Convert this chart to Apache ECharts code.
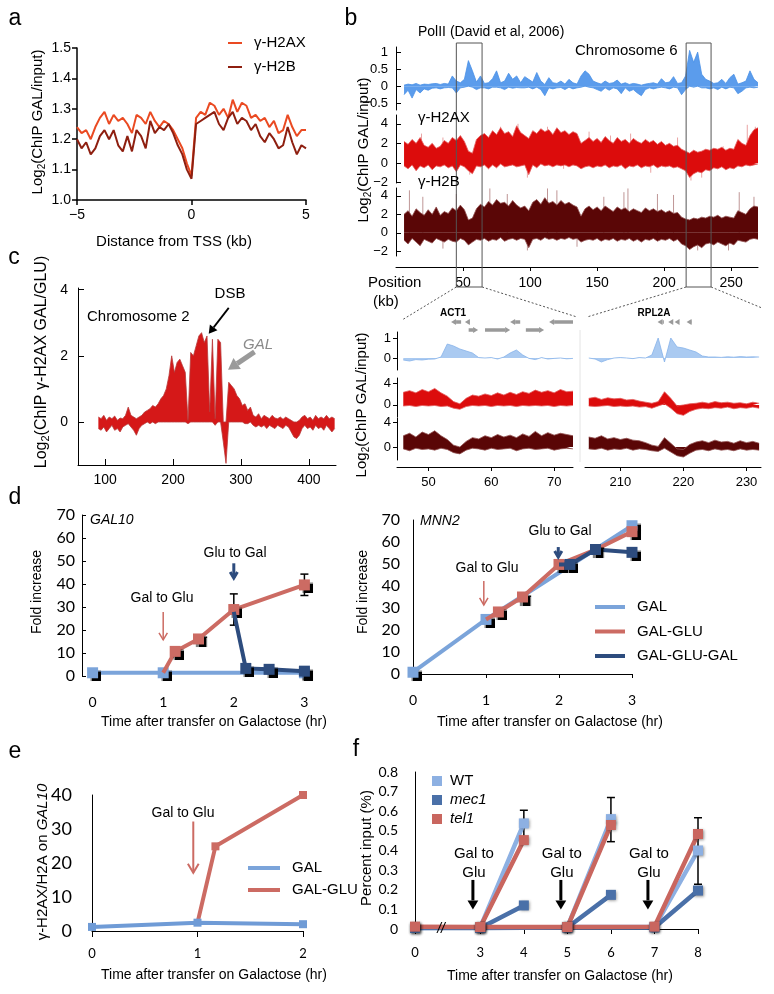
<!DOCTYPE html>
<html>
<head>
<meta charset="utf-8">
<script src="https://cdn.jsdelivr.net/npm/echarts@6/dist/echarts.min.js"></script>
<style>
  html, body { margin: 0; padding: 0; background: #fff; }
  #fig { width: 774px; height: 994px; }
</style>
</head>
<body>
<div id="fig"></div>
<script>
// ---- panel a : profile around TSS ----
const tssKb = [-5,-4.8,-4.6,-4.4,-4.2,-4,-3.8,-3.6,-3.4,-3.2,-3,-2.8,-2.6,-2.4,-2.2,-2,-1.8,-1.6,-1.4,-1.2,
  -1,-0.8,-0.6,-0.4,-0.2,0,0.2,0.4,0.6,0.8,1,1.2,1.4,1.6,1.8,2,2.2,2.4,2.6,2.8,3,3.2,3.4,3.6,3.8,4,4.2,4.4,4.6,4.8,5]
const h2axTss = [1.24,1.22,1.23,1.20,1.24,1.27,1.29,1.25,1.28,1.26,
  1.27,1.25,1.22,1.28,1.27,1.25,1.29,1.26,1.24,1.26,
  1.25,1.23,1.20,1.17,1.12,1.08,1.27,1.29,1.28,1.32,
  1.31,1.28,1.30,1.27,1.33,1.29,1.32,1.31,1.27,1.28,
  1.26,1.27,1.24,1.26,1.22,1.23,1.28,1.24,1.21,1.23,1.23]
const h2bTss = [1.20,1.17,1.19,1.15,1.17,1.21,1.23,1.20,1.23,1.18,
  1.16,1.21,1.16,1.23,1.21,1.17,1.26,1.22,1.24,1.23,
  1.25,1.22,1.18,1.15,1.10,1.07,1.25,1.26,1.27,1.28,
  1.29,1.25,1.23,1.27,1.29,1.25,1.27,1.26,1.23,1.25,
  1.21,1.19,1.22,1.20,1.17,1.18,1.24,1.19,1.15,1.18,1.17]

// ---- panel b : chromosome 6 tracks (upper / lower envelope per bin) ----
const chr6Kb = [6,9,12,15,18,21,24,27,30,33,36,39,42,45,48,51,54,57,60,63,66,69,72,75,78,81,84,87,90,93,
  96,99,102,105,108,111,114,117,120,123,126,129,132,135,138,141,144,147,150,153,156,159,162,165,168,171,174,177,180,183,
  186,189,192,195,198,201,204,207,210,213,216,219,222,225,228,231,234,237,240,243,246,249,252,255,258,261,264,267,270]
const polHi = [0.03,0.06,0.04,0.08,0.03,0.06,0.05,0.07,0.08,0.05,
  0.08,0.06,0.3,0.15,0.1,0.2,0.75,0.45,0.12,0.3,
  0.08,0.1,0.22,0.45,0.1,0.15,0.38,0.2,0.3,0.1,
  0.28,0.2,0.12,0.4,0.15,0.05,0.25,0.1,0.08,0.15,
  0.06,0.2,0.1,0.06,0.3,0.45,0.35,0.15,0.1,0.06,
  0.15,0.08,0.1,0.18,0.06,0.1,0.05,0.08,0.06,0.03,
  0.06,0.08,0.1,0.06,0.22,0.1,0.12,0.28,0.08,0.1,
  0.3,1.05,0.7,1.0,0.35,0.2,0.15,0.08,0.1,0.2,
  0.08,0.25,0.35,0.06,0.1,0.15,0.45,0.2,0.1]
const polLo = [-0.25,-0.12,-0.35,-0.1,-0.2,-0.08,-0.12,-0.06,-0.05,-0.08,
  -0.05,-0.04,-0.05,-0.2,-0.05,-0.03,0,-0.03,-0.1,-0.05,
  -0.05,-0.08,-0.03,-0.03,-0.05,-0.1,-0.03,-0.06,-0.04,-0.05,
  -0.05,-0.03,-0.08,-0.03,-0.1,-0.28,-0.05,-0.08,-0.05,-0.04,
  -0.1,-0.03,-0.08,-0.05,-0.03,0,-0.03,-0.05,-0.1,-0.15,
  -0.05,-0.12,-0.05,-0.08,-0.22,-0.05,-0.15,-0.1,-0.2,-0.28,
  -0.1,-0.05,-0.08,-0.05,-0.03,-0.05,-0.08,-0.03,-0.05,-0.25,
  -0.1,0,-0.03,0,-0.05,-0.05,-0.08,-0.05,-0.1,-0.03,
  -0.08,-0.03,-0.05,-0.22,-0.15,-0.05,-0.03,-0.05,-0.03]
const h2axHi = [2.2,1.9,2.4,2.0,2.6,1.8,1.6,2.0,1.5,1.7,
  2.3,2.0,2.6,2.3,2.8,2.2,1.2,1.0,2.4,2.8,
  3.0,2.6,3.3,2.9,3.6,3.0,3.2,2.7,3.8,3.1,
  2.8,2.5,3.3,3.0,3.5,3.2,3.4,2.9,3.6,3.1,
  3.3,2.9,3.2,3.0,2.0,2.3,2.6,2.2,2.5,2.1,
  2.7,2.3,2.0,2.6,2.2,2.4,2.0,2.5,2.2,2.0,
  2.4,2.1,2.3,1.9,2.2,1.8,2.0,1.7,1.8,1.4,
  1.2,1.0,1.3,1.1,1.2,1.4,1.3,1.5,1.4,1.6,
  1.3,1.5,1.4,2.4,2.0,1.8,2.8,3.4,3.6]
const h2axLo = [-0.3,-0.6,-0.2,-0.8,-0.3,-0.5,-0.2,-0.7,-0.3,-0.4,
  -0.2,-0.5,-0.3,-0.9,-0.2,-0.4,-0.8,-1.1,-0.3,-0.4,
  -0.2,-0.6,-0.2,-0.5,-0.1,-0.4,-0.3,-0.2,-0.4,-0.3,
  -0.2,-1.2,-0.2,-0.5,-0.1,-0.3,-0.2,-0.4,-0.2,-0.3,
  -0.2,-0.4,-0.2,-0.3,-0.6,-0.4,-0.3,-0.5,-0.3,-0.4,
  -0.2,-0.5,-0.3,-0.4,-0.2,-0.6,-0.3,-0.4,-0.2,-0.5,
  -0.3,-0.4,-0.2,-0.5,-0.3,-0.4,-0.3,-0.5,-0.4,-0.6,
  -0.8,-1.5,-1.1,-0.9,-1.0,-0.7,-0.8,-0.5,-0.6,-0.4,
  -0.7,-0.5,-0.6,-0.3,-0.4,-0.2,-0.3,-0.2,-0.1]
const h2bHi = [2.0,2.4,1.8,2.6,2.2,1.9,2.5,2.0,2.8,1.9,
  2.3,2.1,2.7,2.4,3.0,2.5,1.4,1.6,2.6,3.1,
  2.8,3.4,3.0,3.6,3.2,3.3,2.9,3.5,3.0,2.7,
  2.9,2.4,3.3,3.6,3.1,3.8,3.2,3.4,3.0,3.5,
  3.1,3.3,3.0,2.8,1.8,2.6,2.9,2.5,2.8,2.4,
  2.9,2.6,2.3,2.8,2.5,2.7,2.3,2.6,2.4,2.2,
  2.7,2.4,2.6,2.3,2.5,2.2,2.4,2.1,2.2,1.7,
  1.5,1.4,1.6,1.5,1.7,1.6,1.8,1.7,1.9,1.6,
  1.8,1.7,1.6,2.4,2.2,2.0,2.6,2.9,2.8]
const h2bLo = [-0.8,-1.2,-0.6,-1.0,-1.4,-0.7,-0.9,-1.1,-0.6,-0.8,
  -1.0,-0.7,-0.9,-1.0,-0.6,-0.8,-1.3,-1.0,-0.7,-0.8,
  -0.6,-0.9,-0.7,-0.8,-0.5,-0.9,-0.7,-0.6,-0.8,-0.6,
  -0.7,-1.6,-0.7,-0.6,-0.8,-0.5,-0.7,-0.6,-0.8,-0.6,
  -0.7,-0.5,-0.7,-0.6,-1.0,-0.8,-0.7,-0.8,-0.6,-0.9,
  -0.7,-0.8,-0.6,-0.9,-0.7,-0.8,-0.6,-0.9,-0.7,-1.0,
  -0.7,-0.8,-0.6,-0.9,-0.7,-0.8,-0.6,-0.9,-0.7,-1.2,
  -1.4,-1.8,-1.5,-1.3,-1.6,-1.2,-1.1,-1.3,-1.0,-1.2,
  -1.4,-1.1,-1.3,-0.8,-0.9,-1.0,-0.7,-0.6,-0.7]
// single outlying probes that stick out of the bands: [kb, value]
const h2axSpikes = [[19,3.0],[35,2.6],[55,-1.2],[78,3.7],[91,4.0],[98,-1.5],[113,3.7],[125,-0.6],[144,3.2],
  [160,2.8],[175,3.0],[190,-1.0],[210,2.6],[220,-1.8],[228,-1.5],[244,1.7],[262,3.9],[268,3.7]]
const h2bSpikes = [[10,4.6],[20,3.9],[35,-1.7],[45,4.2],[70,4.8],[83,4.2],[98,-1.9],[113,4.8],[120,4.6],[135,-1.5],
  [155,3.9],[170,4.4],[173,4.8],[195,4.2],[207,4.1],[225,-1.9],[248,-1.9],[256,4.4],[267,3.9]]
const chr6Ticks = [50,100,150,200,250]
const chr6Boxes = [[45,64.2],[216.4,235]]

// ---- panel b : zoomed windows (ACT1 and RPL2A regions) ----
const actKb = [46,47,48,49,50,51,52,53,54,55,56,57,58,59,60,61,62,63,64,65,66,67,68,69,70,71,72,73]
const actPol = [-0.1,-0.15,-0.08,-0.1,-0.06,-0.05,0.05,0.7,0.6,0.45,0.35,0.25,0.02,0,0.02,-0.05,0.05,0.25,0.4,0.15,-0.02,-0.08,0.02,-0.05,-0.02,0,-0.04,-0.02]
const actH2axHi = [2.3,2.6,2.2,2.8,2.4,3.0,2.2,1.6,0.6,0.2,1.2,1.8,1.6,2.0,1.7,2.2,1.8,2.3,1.9,2.4,2.1,2.7,2.3,2.6,2.2,2.8,2.4,2.5]
const actH2axLo = [-0.2,-0.1,-0.3,-0.1,-0.2,-0.1,-0.3,-0.2,-0.6,-0.8,-0.3,-0.1,-0.2,-0.1,-0.3,-0.1,-0.2,-0.1,-0.3,-0.1,-0.2,-0.1,-0.2,-0.1,-0.3,-0.1,-0.2,-0.1]
const actH2bHi = [1.8,2.2,1.6,2.4,2.0,2.6,1.8,1.2,0.3,0.0,0.9,1.5,1.3,1.8,1.5,2.0,1.6,1.9,1.5,2.1,1.7,2.5,1.8,2.3,1.9,2.2,2.0,1.8]
const actH2bLo = [-0.3,-0.6,-0.2,-0.4,-0.3,-0.5,-0.2,-0.4,-0.9,-1.1,-0.5,-0.2,-0.3,-0.5,-0.2,-0.4,-0.3,-0.2,-0.6,-0.3,-0.2,-0.4,-0.3,-0.2,-0.5,-0.3,-0.2,-0.3]
const rplKb = [205,206,207,208,209,210,211,212,213,214,215,216,217,218,219,220,221,222,223,224,225,226,227,228,229,230,231,232]
const rplPol = [0,-0.05,-0.2,-0.08,0,0.02,0,-0.03,0.02,0,0.15,1.0,-0.2,1.0,0.55,0.5,0.4,0.3,0.1,0.05,0.05,0.03,0.06,0.04,0.07,0.05,0.06,0.05]
const rplH2axHi = [1.2,1.4,1.0,1.3,1.1,1.2,0.9,1.0,0.7,0.5,0.3,0.6,2.4,1.2,-0.2,0.0,0.2,0.3,0.5,0.3,0.6,0.4,0.5,0.3,0.4,0.2,0.5,0.3]
const rplH2axLo = [-0.2,-0.3,-0.2,-0.1,-0.3,-0.2,-0.3,-0.2,-0.4,-0.3,-0.6,-0.2,0.2,-0.6,-1.6,-1.9,-1.2,-0.8,-0.6,-0.7,-0.5,-0.6,-0.4,-0.7,-0.5,-0.6,-0.4,-0.6]
const rplH2bHi = [1.6,1.4,1.8,1.3,1.5,1.2,1.4,1.1,1.0,0.7,0.3,0.1,1.5,0.6,-0.3,-0.4,0.4,0.8,1.0,0.7,1.1,0.8,0.9,0.6,1.0,0.7,0.9,0.6]
const rplH2bLo = [-0.3,-0.4,-0.2,-0.5,-0.3,-0.4,-0.2,-0.5,-0.3,-0.4,-0.6,-0.7,-0.2,-0.8,-1.4,-1.6,-1.0,-0.5,-0.4,-0.6,-0.3,-0.5,-0.4,-0.6,-0.3,-0.5,-0.4,-0.5]
const actTicks = [50,60,70]
const rplTicks = [210,220,230]
// gene arrows: [from kb, to kb, row]
const actGenes = [[55.2,53.6,1],[56.5,55.8,1],[64.6,63.0,1],[73.0,69.2,1],[56.4,57.9,2],[59.0,63.0,2],[65.5,68.4,2]]
const rplGenes = [[216.9,215.9,1],[218.4,217.6,1],[219.4,218.6,1],[221.2,220.5,1]]

// ---- panel c : chromosome 2 ----
const chr2Kb = [90,94,98,102,106,110,114,118,122,126,130,134,138,142,146,150,154,158,162,166,
  170,174,178,182,186,190,194,198,202,206,210,214,218,222,226,230,234,238,242,246,
  250,254,258,262,266,270,274,278,282,286,290,294,298,302,306,310,314,318,322,326,
  330,334,338,342,346,350,354,358,362,366,370,374,378,382,386,390,394,398,402,406,
  410,414,418,422,426,430,434,438]
const chr2Hi = [0.15,0.1,0.2,0.05,0.15,0.1,0.18,0.05,0.12,0.1,
  0.2,0.45,0.2,0.15,0.1,0.15,0.2,0.3,0.35,0.4,
  0.5,0.45,0.55,0.7,0.8,1.0,1.4,2.0,1.5,1.8,
  1.9,1.7,1.5,0.05,2.1,2.0,2.3,2.6,2.7,2.4,
  2.6,0.3,2.5,0.1,2.5,2.4,0,0,1.2,1.1,
  1.0,0.8,0.7,0.5,0.55,0.35,0.45,0.2,0.15,0.25,
  0.1,0.2,0.15,0.1,0.2,0.12,0.1,0.15,0.08,0.15,
  0.1,0.05,0,0,0.05,0.15,0.2,0.1,0.15,0.05,
  0.2,0.1,0.15,0.1,0.2,0.1,0.15,0.1]
const chr2Lo = [-0.2,-0.25,-0.15,-0.3,-0.2,-0.1,-0.25,-0.2,-0.3,-0.15,
  -0.1,-0.05,-0.15,-0.25,-0.4,-0.2,-0.1,-0.05,0,-0.05,
  0,-0.05,0,0,0,0,0,0,0,0,
  0,0,0,-0.05,0,0,0,0,0,0,
  0,0,0,-0.1,0,0,-0.6,-1.25,0,0,
  0,0,0,0,-0.05,-0.05,0,-0.1,-0.15,-0.1,
  -0.15,-0.1,-0.2,-0.1,-0.15,-0.2,-0.1,-0.15,-0.2,-0.1,
  -0.15,-0.3,-0.45,-0.5,-0.4,-0.2,-0.1,-0.2,-0.15,-0.25,
  -0.1,-0.2,-0.15,-0.25,-0.1,-0.2,-0.3,-0.2]
const chr2Ticks = [100,200,300,400]

// ---- panel d : GAL10 (left) and MNN2 (right) ----
const gal10GalHr = [0,1,3]
const gal10Gal = [1.4,1.4,1.4]
const gal10GluHr = [1,1.17,1.5,2,3]
const gal10Glu = [1.4,10.7,16.1,28.9,39.6]
const gal10GggHr = [2,2.17,2.5,3]
const gal10Ggg = [27.9,3.3,2.9,2.1]
const gal10ErrHr = [2,3]
const gal10ErrLo = [22.1,35]
const gal10ErrHi = [35.7,44.3]
const mnn2GalHr = [0,1,2,3]
const mnn2Gal = [0.8,24.8,46,67.4]
const mnn2GluHr = [1,1.17,1.5,2,2.5,3]
const mnn2Glu = [24.8,28.2,35,49.8,56.5,64.7]
const mnn2GggHr = [2,2.15,2.5,3]
const mnn2Ggg = [49.8,49.8,56.6,55.3]

// ---- panel e ----
const eGalHr = [0,1,2]
const eGal = [1.2,2.45,2.0]
const eGluHr = [1,1.17,2]
const eGlu = [2.45,24.9,40]

// ---- panel f ----
const fSlots = ['0','','','3','','4','','5','','6','','7','','8']
const fBaseHr = [0,3,5,7]
const fPeakHr = [4,6,8]
const wtBase = [0.005,0.008,0.01,0.01]
const wtPeak = [0.538,0.56,0.40]
const mec1Base = [0.005,0.005,0.008,0.008]
const mec1Peak = [0.12,0.174,0.196]
const tel1Base = [0.012,0.01,0.01,0.012]
const tel1Peak = [0.453,0.53,0.484]
const wtErrHr = [4,6,8]
const wtErrLo = [0.47,0.445,0.228]
const wtErrHi = [0.605,0.67,0.567]
const fArrowHr = [2.83,4.85,6.85]

const sans = 'Liberation Sans'
const xl = 'Lato'
const LBLUE = '#7ba4da', SALMON = '#cc6b63', DBLUE = '#2d4c7e'

const chart = echarts.init(document.getElementById('fig'))

function merge(a, b) {
  const o = Object.assign({}, a)
  for (const k in b) {
    const v = b[k]
    if (v && typeof v === 'object' && !Array.isArray(v) && a[k] && typeof a[k] === 'object') o[k] = merge(a[k], v)
    else o[k] = v
  }
  return o
}
const baseAxis = {
  type: 'value',
  splitLine: { show: false },
  axisLine: { show: true, onZero: false, lineStyle: { color: '#000', width: 1 } },
  axisTick: { show: true, lineStyle: { color: '#000' } },
  axisLabel: { color: '#000', fontFamily: sans, fontSize: 13 }
}
const ax = (g, o) => merge(merge(baseAxis, { gridIndex: g }), o || {})
const minus = v => (v < 0 ? '\u2212' + (-v) : String(v))

const grids = [
  [77, 48, 229, 152],    // a
  [396, 47, 362, 63],    // b PolII
  [396, 115, 362, 68],   // b H2AX
  [396, 188, 362, 68],   // b H2B
  [397, 332, 176, 38],   // zoom left
  [397, 378, 176, 39],
  [397, 418, 176, 42],
  [585, 332, 176, 38],   // zoom right
  [585, 378, 176, 39],
  [585, 418, 176, 42],
  [78, 288, 258, 177],   // c
  [82, 515, 233, 161],   // d left
  [413, 520, 219, 154],  // d right
  [92, 795, 211, 136],   // e
  [415, 772, 283, 157]   // f
].map(r => ({ left: r[0], top: r[1], width: r[2], height: r[3], outerBoundsMode: 'none' }))

const inTick = vals => ({ inside: true, length: 5, customValues: vals })
const xAxes = [
  ax(0, { min: -5, max: 5, interval: 5, axisLine: { lineStyle: { width: 1.5 } }, axisTick: { length: 5, lineStyle: { width: 1.5 } }, axisLabel: { fontSize: 14, margin: 8, formatter: minus } }),
  ax(1, { min: 0, max: 270, show: false }),
  ax(2, { min: 0, max: 270, show: false }),
  ax(3, { min: 0, max: 270, offset: 11, axisTick: { length: 4, customValues: chr6Ticks }, axisLabel: { customValues: chr6Ticks, fontSize: 14, margin: 9 } }),
  ax(4, { min: 45, max: 73, show: false }),
  ax(5, { min: 45, max: 73, show: false }),
  ax(6, { min: 45, max: 73, offset: 7, axisTick: { length: 4, customValues: actTicks }, axisLabel: { customValues: actTicks, margin: 9 } }),
  ax(7, { min: 204.4, max: 232.3, show: false }),
  ax(8, { min: 204.4, max: 232.3, show: false }),
  ax(9, { min: 204.4, max: 232.3, offset: 7, axisTick: { length: 4, customValues: rplTicks }, axisLabel: { customValues: rplTicks, margin: 9 } }),
  ax(10, { min: 60, max: 440, axisTick: { inside: true, length: 6, customValues: chr2Ticks }, axisLabel: { customValues: chr2Ticks, margin: 8, fontSize: 14 } }),
  ax(11, { min: -0.15, max: 3.15, axisLine: { show: false }, axisTick: { show: false }, axisLabel: { customValues: [0, 1, 2, 3], fontFamily: xl, fontSize: 14, margin: 19 } }),
  ax(12, { min: 0, max: 3, interval: 1, axisTick: { length: 4 }, axisLabel: { fontFamily: xl, fontSize: 14, margin: 19 } }),
  ax(13, { min: 0, max: 2, interval: 1, axisTick: { length: 6 }, axisLabel: { fontFamily: xl, fontSize: 13, margin: 16 } }),
  ax(14, { type: 'category', data: fSlots, boundaryGap: false,
    axisTick: { length: 5, alignWithLabel: true, interval: (i, v) => v !== '' },
    axisLabel: { interval: 0, fontFamily: xl, fontSize: 13, margin: 17 } })
]
const yAxes = [
  ax(0, { min: 1.0, max: 1.5, interval: 0.1, axisLine: { lineStyle: { width: 1.5 } }, axisTick: { length: 5, lineStyle: { width: 1.5 } }, axisLabel: { fontSize: 14, margin: 6, formatter: v => v.toFixed(1) } }),
  ax(1, { min: -0.7, max: 1.15, axisTick: inTick([-0.5, 0, 0.5, 1]), axisLabel: { customValues: [-0.5, 0, 0.5, 1], formatter: minus, margin: 8 } }),
  ax(2, { min: -2.05, max: 4.9, axisTick: inTick([-2, 0, 2, 4]), axisLabel: { customValues: [-2, 0, 2, 4], formatter: minus, margin: 8 } }),
  ax(3, { min: -2.5, max: 4.85, axisTick: inTick([-2, 0, 2, 4]), axisLabel: { customValues: [-2, 0, 2, 4], formatter: minus, margin: 8 } }),
  ax(4, { min: -0.6, max: 1.3, axisTick: { length: 4, customValues: [0, 1] }, axisLabel: { customValues: [0, 1], margin: 6 } }),
  ax(5, { min: -2.2, max: 4.9, axisTick: { length: 4, customValues: [0, 4] }, axisLabel: { customValues: [0, 4], margin: 6 } }),
  ax(6, { min: -2.08, max: 4.64, axisTick: { length: 4, customValues: [0, 4] }, axisLabel: { customValues: [0, 4], margin: 6 } }),
  ax(7, { min: -0.6, max: 1.3, show: false }),
  ax(8, { min: -2.2, max: 4.9, show: false }),
  ax(9, { min: -2.08, max: 4.64, show: false }),
  ax(10, { min: -1.3, max: 4.05, axisTick: { inside: true, length: 6, customValues: [0, 2, 4] }, axisLabel: { customValues: [0, 2, 4], margin: 10, fontSize: 14 } }),
  ax(11, { min: 0, max: 70, interval: 10, axisTick: { inside: true, length: 4 }, axisLabel: { fontFamily: xl, fontSize: 16, margin: 7 } }),
  ax(12, { min: 0, max: 70, interval: 10, axisTick: { show: false }, axisLabel: { fontFamily: xl, fontSize: 16, margin: 13 } }),
  ax(13, { min: 0, max: 40, interval: 10, axisTick: { show: false }, axisLabel: { fontFamily: xl, fontSize: 18, margin: 20 } }),
  ax(14, { min: 0, max: 0.8, interval: 0.1, axisTick: { show: false }, axisLabel: { fontFamily: xl, fontSize: 14, margin: 17, formatter: v => (v === 0 ? '0' : v.toFixed(1)) } })
]

const pairs = (xs, ys) => xs.map((x, i) => [x, ys[i]])

// filled track: one series for the upper envelope and one for the lower, both filled to 0
function band(name, g, xs, hi, lo, fill, edge) {
  const mk = vals => ({
    type: 'line', name, xAxisIndex: g, yAxisIndex: g, data: pairs(xs, vals),
    symbol: 'none', silent: true, z: 2,
    lineStyle: { color: edge, width: 0.8 },
    areaStyle: { color: fill, opacity: 1, origin: 0 }
  })
  return lo ? [mk(hi), mk(lo)] : [mk(hi)]
}

// thin pale needles from 0 to an outlying probe value
function spikes(g, rows, color) {
  return {
    type: 'custom', xAxisIndex: g, yAxisIndex: g, z: 1, silent: true, data: rows,
    renderItem(params, api) {
      const a = api.coord([api.value(0), 0]), b = api.coord([api.value(0), api.value(1)])
      return { type: 'line', shape: { x1: a[0], y1: a[1], x2: b[0], y2: b[1] }, style: { stroke: color, lineWidth: 1 } }
    }
  }
}

function mLine(name, g, xs, ys, color, o) {
  const hide = (o && o.hide) || []
  return merge({
    type: 'line', name, xAxisIndex: g, yAxisIndex: g, silent: true,
    data: xs.map((x, i) => (hide.includes(i) ? { value: [x, ys[i]], symbol: 'none' } : [x, ys[i]])),
    symbol: 'rect', symbolSize: 11, showSymbol: true,
    lineStyle: { color, width: 4 },
    itemStyle: { color, shadowColor: '#000', shadowBlur: 1, shadowOffsetX: 3, shadowOffsetY: 3 }
  }, Object.assign({}, o, { hide: undefined }))
}

function errBars(g, rows, cap) {
  return {
    type: 'custom', xAxisIndex: g, yAxisIndex: g, z: 1, silent: true, data: rows,
    encode: { x: 0, y: [1, 2] },
    renderItem(params, api) {
      const lo = api.coord([api.value(0), api.value(1)])
      const hi = api.coord([api.value(0), api.value(2)])
      const st = { stroke: '#000', lineWidth: 1.5 }
      return { type: 'group', children: [
        { type: 'line', shape: { x1: lo[0], y1: lo[1], x2: hi[0], y2: hi[1] }, style: st },
        { type: 'line', shape: { x1: hi[0] - cap, y1: hi[1], x2: hi[0] + cap, y2: hi[1] }, style: st },
        { type: 'line', shape: { x1: lo[0] - cap, y1: lo[1], x2: lo[0] + cap, y2: lo[1] }, style: st }
      ] }
    }
  }
}

const slot = h => fSlots.indexOf(String(h))
function fSeries(name, base, peak, color) {
  const d = [[slot(fBaseHr[0]), base[0]]]
  for (let k = 0; k < fPeakHr.length; k++) {
    if (k > 0) {
      d.push([slot(fPeakHr[k - 1]), '-'])
      d.push([slot(fBaseHr[k]), base[k]])
    }
    d.push([slot(fBaseHr[k + 1]), base[k + 1]])
    d.push([slot(fPeakHr[k]), peak[k]])
  }
  return {
    type: 'line', name, xAxisIndex: 14, yAxisIndex: 14, data: d, silent: true,
    symbol: 'rect', symbolSize: 10, lineStyle: { color, width: 4.5 },
    itemStyle: { color, shadowColor: 'rgba(0,0,0,0.45)', shadowBlur: 3, shadowOffsetX: 1, shadowOffsetY: 1 }
  }
}

const series = [
  // a
  { type: 'line', name: '\u03b3-H2AX', xAxisIndex: 0, yAxisIndex: 0, data: pairs(tssKb, h2axTss), symbol: 'none', z: 2,
    lineStyle: { color: '#ea4a22', width: 2 }, itemStyle: { color: '#ea4a22' } },
  { type: 'line', name: '\u03b3-H2B', xAxisIndex: 0, yAxisIndex: 0, data: pairs(tssKb, h2bTss), symbol: 'none', z: 3,
    lineStyle: { color: '#8e1f10', width: 2 }, itemStyle: { color: '#8e1f10' } },
  // b overview
  ...band('pol', 1, chr6Kb, polHi, polLo, '#5b9cec', '#4a90e6'),
  spikes(2, h2axSpikes, '#e9a3a3'),
  ...band('h2ax', 2, chr6Kb, h2axHi, h2axLo, '#dc0c0c', '#e36060'),
  spikes(3, h2bSpikes, '#bf9696'),
  ...band('h2b', 3, chr6Kb, h2bHi, h2bLo, '#5a0606', '#925050'),
  // b zoomed
  ...band('actPol', 4, actKb, actPol, null, '#aacaf1', '#86b3ea'),
  ...band('actH2ax', 5, actKb, actH2axHi, actH2axLo, '#dc0c0c', '#e36060'),
  ...band('actH2b', 6, actKb, actH2bHi, actH2bLo, '#5a0606', '#925050'),
  ...band('rplPol', 7, rplKb, rplPol, null, '#aacaf1', '#86b3ea'),
  ...band('rplH2ax', 8, rplKb, rplH2axHi, rplH2axLo, '#dc0c0c', '#e36060'),
  ...band('rplH2b', 9, rplKb, rplH2bHi, rplH2bLo, '#5a0606', '#925050'),
  // c
  ...band('chr2', 10, chr2Kb, chr2Hi, chr2Lo, '#d51818', '#b83a3a'),
  // d left
  errBars(11, gal10ErrHr.map((h, i) => [h, gal10ErrLo[i], gal10ErrHi[i]]), 4),
  mLine('GAL', 11, gal10GalHr, gal10Gal, LBLUE, { z: 3 }),
  mLine('GAL-GLU', 11, gal10GluHr, gal10Glu, SALMON, { z: 4, hide: [0] }),
  mLine('GAL-GLU-GAL', 11, gal10GggHr, gal10Ggg, DBLUE, { z: 5, hide: [0] }),
  // d right
  mLine('GAL', 12, mnn2GalHr, mnn2Gal, LBLUE, { z: 3, hide: [2] }),
  mLine('GAL-GLU', 12, mnn2GluHr, mnn2Glu, SALMON, { z: 4, hide: [0, 4] }),
  mLine('GAL-GLU-GAL', 12, mnn2GggHr, mnn2Ggg, DBLUE, { z: 5, hide: [0] }),
  // e
  mLine('GAL-GLU', 13, eGluHr, eGlu, SALMON, { z: 3, hide: [0], symbolSize: 8, itemStyle: { shadowColor: 'transparent', shadowBlur: 0, shadowOffsetX: 0, shadowOffsetY: 0 } }),
  mLine('GAL', 13, eGalHr, eGal, LBLUE, { z: 4, symbolSize: 8, lineStyle: { color: '#6f9bd6' }, itemStyle: { color: '#6f9bd6', shadowColor: 'transparent', shadowBlur: 0, shadowOffsetX: 0, shadowOffsetY: 0 } }),
  // f
  errBars(14, wtErrHr.map((h, i) => [slot(h), wtErrLo[i], wtErrHi[i]]), 4),
  fSeries('WT', wtBase, wtPeak, '#8db0e2'),
  fSeries('mec1', mec1Base, mec1Peak, '#4a70a8'),
  fSeries('tel1', tel1Base, tel1Peak, '#c9665f')
]

const legText = (size, lh, pad) => ({ color: '#000', fontFamily: sans, fontSize: size, lineHeight: lh, padding: [0, 0, 0, pad] })
const option = {
  animation: false,
  backgroundColor: '#fff',
  grid: grids,
  xAxis: xAxes,
  yAxis: yAxes,
  legend: [
    { data: ['\u03b3-H2AX', '\u03b3-H2B'], left: 223, top: 30, orient: 'vertical', icon: 'rect', itemWidth: 14, itemHeight: 2,
      itemGap: 8, selectedMode: false, textStyle: legText(15, 16, 7) },
    { data: ['GAL', 'GAL-GLU', 'GAL-GLU-GAL'], left: 590, top: 593, orient: 'vertical', icon: 'rect', itemWidth: 30, itemHeight: 4,
      itemGap: 6.5, selectedMode: false, textStyle: legText(15, 18, 7) },
    { data: ['GAL', 'GAL-GLU'], left: 243, top: 854, orient: 'vertical', icon: 'rect', itemWidth: 32, itemHeight: 4,
      itemGap: 4, selectedMode: false, textStyle: legText(15, 18, 7) },
    { data: ['WT', 'mec1', 'tel1'], left: 427, top: 768, orient: 'vertical', icon: 'rect', itemWidth: 10, itemHeight: 10,
      itemGap: 3, selectedMode: false,
      formatter: n => (n === 'WT' ? n : '{i|' + n + '}'),
      textStyle: Object.assign(legText(15, 16, 3), { rich: { i: { fontStyle: 'italic', fontFamily: sans, fontSize: 15 } } }) }
  ],
  series
}
chart.setOption(option)

// ---- annotations (placed through the axes) ----
const P = (g, x, y) => chart.convertToPixel({ gridIndex: g }, [x, y])
const font = (size, extra) => (extra ? extra + ' ' : '') + size + 'px "' + sans + '"'
function txt(x, y, s, size, o) {
  return { type: 'text', x, y, silent: true, z: 50,
    style: Object.assign({ text: s, fill: '#000', font: font(size || 15), align: 'left', verticalAlign: 'middle' }, o || {}) }
}
function vtxt(x, y, rich, size) {
  return { type: 'text', x, y, rotation: Math.PI / 2, silent: true, z: 50,
    style: { text: rich, fill: '#000', align: 'center', verticalAlign: 'middle',
      rich: {
        n: { fontFamily: sans, fontSize: size, lineHeight: size + 3 },
        i: { fontFamily: sans, fontSize: size, fontStyle: 'italic', lineHeight: size + 3 },
        s: { fontFamily: sans, fontSize: size - 5, lineHeight: size + 3, padding: [8, 0, 0, 0] }
      } } }
}
function arrow(a, b, color, w, head, open) {
  const ang = Math.atan2(b[1] - a[1], b[0] - a[0])
  const c = Math.cos(ang), s = Math.sin(ang)
  const bx = b[0] - head * c, by = b[1] - head * s
  const nx = -s * head * 0.6, ny = c * head * 0.6
  if (open) {
    return [
      { type: 'line', z: 50, silent: true, shape: { x1: a[0], y1: a[1], x2: b[0], y2: b[1] }, style: { stroke: color, lineWidth: w } },
      { type: 'polyline', z: 50, silent: true, shape: { points: [[bx + nx, by + ny], [b[0], b[1]], [bx - nx, by - ny]] }, style: { stroke: color, lineWidth: w, fill: null } }
    ]
  }
  return [
    { type: 'line', z: 50, silent: true, shape: { x1: a[0], y1: a[1], x2: bx, y2: by }, style: { stroke: color, lineWidth: w } },
    { type: 'polygon', z: 50, silent: true, shape: { points: [[b[0], b[1]], [bx + nx, by + ny], [bx - nx, by - ny]] }, style: { fill: color } }
  ]
}
const line = (x1, y1, x2, y2, st) => ({ type: 'line', z: 40, silent: true, shape: { x1, y1, x2, y2 }, style: Object.assign({ stroke: '#555', lineWidth: 1 }, st) })

const g = []
// panel letters
;[['a', 15, 19], ['b', 351, 19], ['c', 14, 258], ['d', 15, 498], ['e', 15, 752], ['f', 356, 750]]
  .forEach(([t, x, y]) => g.push(txt(x, y, t, 23, { align: 'center' })))

// a
g.push(txt(174, 242, 'Distance from TSS (kb)', 15, { align: 'center' }))
g.push(vtxt(38, 122, '{n|Log}{s|2}{n|(ChIP GAL/input)}', 15))

// b overview
g.push(txt(418, 32, 'PolII (David et al, 2006)', 14))
g.push(txt(575, 51, 'Chromosome 6', 15))
g.push(txt(418, 118, '\u03b3-H2AX', 15))
g.push(txt(418, 182, '\u03b3-H2B', 15))
g.push(txt(368, 283, 'Position', 15))
g.push(txt(373, 302, '(kb)', 15))
g.push(vtxt(364, 150, '{n|Log}{s|2}{n|(ChIP GAL/input)}', 15))
const zoomTargets = [[[402, 320], [577, 317]], [[587, 317], [762, 308]]]
chr6Boxes.forEach((bx, k) => {
  const x1 = P(1, bx[0], 0)[0], x2 = P(1, bx[1], 0)[0]
  g.push({ type: 'rect', z: 40, silent: true, shape: { x: x1, y: 43, width: x2 - x1, height: 244 }, style: { fill: null, stroke: '#555', lineWidth: 1 } })
  g.push(line(x1, 287, zoomTargets[k][0][0], zoomTargets[k][0][1], { lineDash: [2, 2] }))
  g.push(line(x2, 287, zoomTargets[k][1][0], zoomTargets[k][1][1], { lineDash: [2, 2] }))
})
// b zoomed
g.push(line(580, 330, 580, 462, { stroke: '#e4e4e4' }))
g.push(vtxt(362, 405, '{n|Log}{s|2}{n|(ChIP GAL/input)}', 15))
g.push(txt(453, 313, 'ACT1', 10, { align: 'center', font: font(10, 'bold') }))
g.push(txt(654, 313, 'RPL2A', 10, { align: 'center', font: font(10, 'bold') }))
const geneRowY = { 1: 322, 2: 330 }
actGenes.forEach(([a, b, r]) => g.push(...arrow([P(4, a, 0)[0], geneRowY[r]], [P(4, b, 0)[0], geneRowY[r]], '#9a9a9a', 3.5, 5)))
rplGenes.forEach(([a, b, r]) => g.push(...arrow([P(7, a, 0)[0], geneRowY[r]], [P(7, b, 0)[0], geneRowY[r]], '#9a9a9a', 3.5, 5)))

// c
g.push(vtxt(42, 362, '{n|Log}{s|2}{n|(ChIP \u03b3-H2AX GAL/GLU)}', 16))
g.push(txt(87, 317, 'Chromosome 2', 15))
g.push(txt(230, 294, 'DSB', 15, { align: 'center' }))
g.push(txt(243, 345, 'GAL', 15, { fill: '#8a8a8a', font: font(15, 'italic') }))
g.push(...arrow(P(10, 282, 3.45), P(10, 252.6, 2.67), '#000', 1.8, 8))
g.push(...arrow(P(10, 320, 2.12), P(10, 281, 1.58), '#9a9a9a', 5, 11))

// d
g.push(txt(90, 520, 'GAL10', 14, { font: font(14, 'italic') }))
g.push(txt(420, 521, 'MNN2', 14, { font: font(14, 'italic') }))
g.push(txt(235, 553, 'Glu to Gal', 14, { align: 'center' }))
g.push(txt(560, 531, 'Glu to Gal', 14, { align: 'center' }))
g.push(txt(162, 598, 'Gal to Glu', 14, { align: 'center' }))
g.push(txt(487, 568, 'Gal to Glu', 14, { align: 'center' }))
g.push(...arrow(P(11, 2, 49), P(11, 2, 42.6), DBLUE, 3, 6, true))
g.push(...arrow(P(11, 1, 27.8), P(11, 1, 15.7), SALMON, 1.5, 7, true))
g.push(...arrow(P(12, 1.99, 57.7), P(12, 1.99, 53.2), DBLUE, 3, 6, true))
g.push(...arrow(P(12, 0.97, 42.3), P(12, 0.97, 31.4), SALMON, 1.5, 7, true))
g.push(vtxt(37, 592, '{n|Fold increase}', 14))
g.push(vtxt(363, 592, '{n|Fold increase}', 14))
g.push(txt(214, 722, 'Time after transfer on Galactose (hr)', 14, { align: 'center' }))
g.push(txt(550, 722, 'Time after transfer on Galactose (hr)', 14, { align: 'center' }))

// e
g.push(txt(183, 813, 'Gal to Glu', 14, { align: 'center' }))
g.push(...arrow(P(13, 0.96, 32.2), P(13, 0.96, 17.1), SALMON, 2, 9, true))
g.push(vtxt(43, 862, '{n|\u03b3-H2AX/H2A on }{i|GAL10}', 15))
g.push(txt(214, 975, 'Time after transfer on Galactose (hr)', 14, { align: 'center' }))

// f
const s3 = P(14, slot(3), 0)[0], s4 = P(14, slot(4), 0)[0], s0 = P(14, slot(0), 0)
const hrPx = s4 - s3
fArrowHr.forEach(h => {
  const x = s3 + (h - 3) * hrPx
  g.push(txt(x + 1, 863, 'Gal to\nGlu', 15, { align: 'center', lineHeight: 19 }))
  g.push(...arrow([x, P(14, 0, 0.25)[1]], [x, P(14, 0, 0.1)[1]], '#000', 3, 9))
})
g.push(txt(s0[0] + 0.4 * (s3 - s0[0]), s0[1], '//', 14, { align: 'center', font: font(14, 'italic') }))
g.push(vtxt(367, 848, '{n|Percent input (%)}', 15))
g.push(txt(560, 976, 'Time after transfer on Galactose (hr)', 14, { align: 'center' }))

chart.setOption({ graphic: { elements: g } })
</script>
</body>
</html>
